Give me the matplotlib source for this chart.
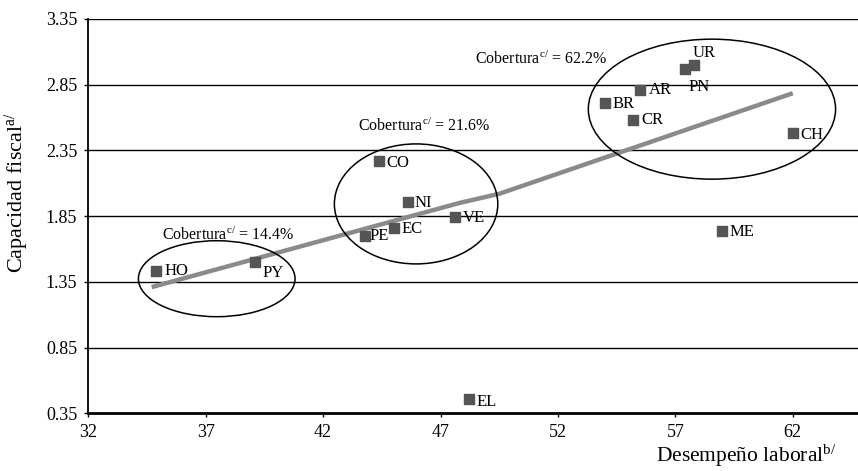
import matplotlib
matplotlib.use('Agg')
import matplotlib.pyplot as plt
from matplotlib.patches import Ellipse

plt.rcParams['font.family'] = ['Liberation Serif', 'DejaVu Serif']
plt.rcParams['mathtext.fontset'] = 'custom'
plt.rcParams['mathtext.rm'] = 'Liberation Serif'
plt.rcParams['mathtext.it'] = 'Liberation Serif:italic'

countries = ['HO', 'PY', 'PE', 'EC', 'NI', 'CO', 'VE', 'UR', 'PN', 'AR', 'BR', 'CR', 'CH', 'ME', 'EL']
desempeno = [34.9, 39.1, 43.8, 45.0, 45.6, 44.4, 47.6, 57.8, 57.4, 55.5, 54.0, 55.2, 62.0, 59.0, 48.2]
capacidad = [1.43, 1.50, 1.70, 1.76, 1.96, 2.27, 1.84, 3.00, 2.97, 2.81, 2.71, 2.58, 2.48, 1.74, 0.46]

trend_x = [34.7, 47.8, 49.5, 62.0]
trend_y = [1.31, 1.95, 2.02, 2.785]

coberturas = ['14.4%', '21.6%', '62.2%']

yticks = [0.35, 0.85, 1.35, 1.85, 2.35, 2.85, 3.35]
xticks = [32, 37, 42, 47, 52, 57, 62]

# label offsets in pixels (dx, dy)
offsets = {'HO': (8, 0), 'PY': (8, -11), 'PE': (4, 0), 'EC': (8, -1), 'NI': (7, -1),
           'CO': (7, -2), 'VE': (8, -1), 'UR': (-1, 12), 'PN': (4, -18), 'AR': (9, 0),
           'BR': (8, -1), 'CR': (8, 0), 'CH': (8, -2), 'ME': (7, -1), 'EL': (8, -3)}

fig = plt.figure(figsize=(8.58, 4.71), dpi=100)
ax = fig.add_axes([0.1029, 0.1225, 0.8971, 0.8372])

ax.set_xlim(32, 64.78)
ax.set_ylim(0.35, 3.35)
ax.set_xticks(xticks)
ax.set_yticks(yticks)
ax.set_yticklabels([f'{v:.2f}' for v in yticks])
ax.tick_params(axis='both', labelsize=13, direction='out', length=3, width=1, color='black')
ax.tick_params(axis='x', pad=5)
ax.tick_params(axis='y', pad=5)

for v in yticks[1:]:
    ax.axhline(v, color='black', lw=1.0, zorder=1)
ax.spines['top'].set_visible(False)
ax.spines['right'].set_visible(False)
ax.spines['bottom'].set_linewidth(2.0)
ax.spines['left'].set_linewidth(1.3)

ax.plot(trend_x, trend_y, color='#8a8a8a', lw=3.2, solid_capstyle='butt', zorder=2)
ax.scatter(desempeno, capacidad, marker='s', s=42, color='#555555', zorder=3)

for name, x, y in zip(countries, desempeno, capacidad):
    dx, dy = offsets[name]
    ax.annotate(name, (x, y), xytext=(dx, dy), textcoords='offset pixels',
                ha='left', va='center', fontsize=12, zorder=4)

ellipses = [(37.47, 1.374, 6.67, 0.578), (45.96, 1.943, 6.96, 0.913), (58.56, 2.664, 10.53, 1.065)]
for cx, cy, w, h in ellipses:
    ax.add_patch(Ellipse((cx, cy), w, h, fill=False, edgecolor='black', lw=1.1, zorder=2))

text_pos = [(35.13, 1.706), (43.5, 2.53), (48.47, 3.04)]
for (tx, ty), c in zip(text_pos, coberturas):
    ax.text(tx, ty, 'Cobertura$^{\\mathrm{c/}}$ = ' + c, fontsize=11.5, ha='left', va='center')

fig.text(17 / 858, 1 - 192 / 471, 'Capacidad fiscal$^{\\mathrm{a/}}$', rotation=90,
         ha='center', va='center', fontsize=16)
fig.text(836 / 858, 1 - 469 / 471, 'Desempeño laboral$^{\\mathrm{b/}}$',
         ha='right', va='bottom', fontsize=15.5)

fig.savefig('out.png', dpi=100)
plt.close(fig)
